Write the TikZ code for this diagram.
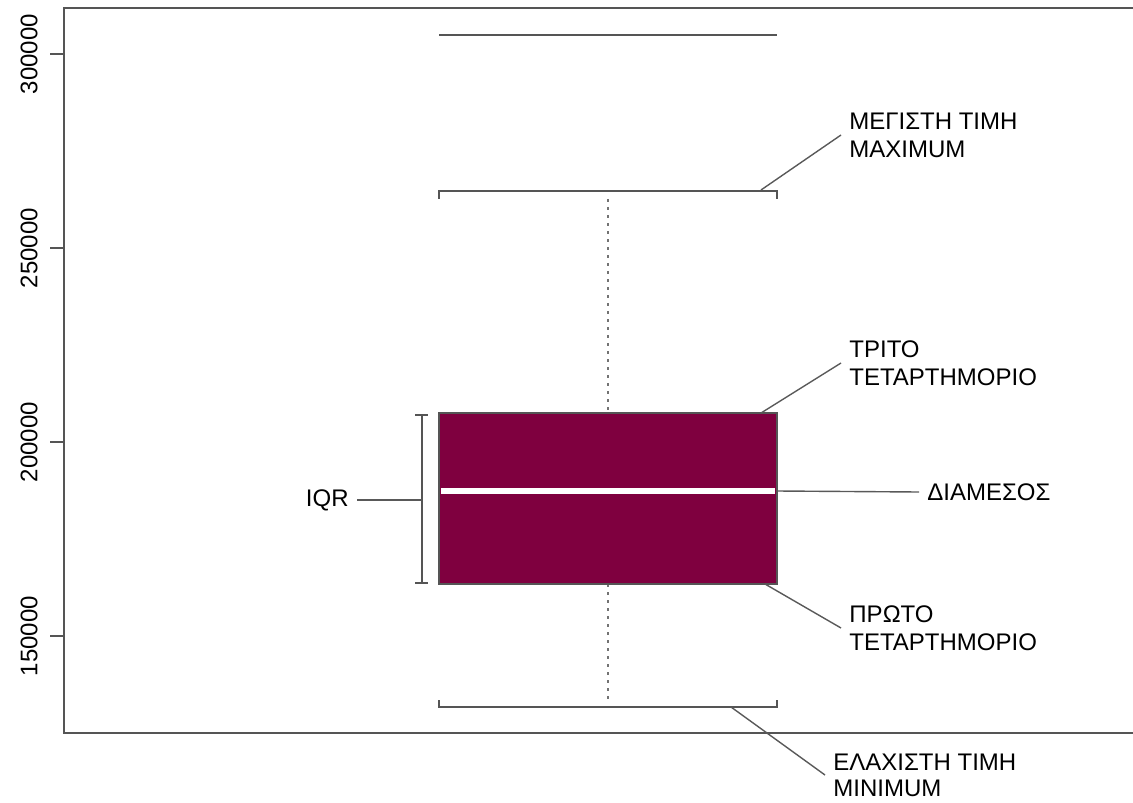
\documentclass[tikz,border=0pt]{standalone}
\usepackage{fontspec}
\setmainfont{Liberation Sans}
\definecolor{boxfill}{RGB}{127,0,63}
\definecolor{axisgray}{RGB}{85,85,85}
\tikzset{
  lbl/.style={anchor=west, align=left, inner xsep=4pt, inner ysep=0pt,
    font=\fontsize{12}{14}\selectfont},
  ticklbl/.style={rotate=90, inner sep=0pt, font=\fontsize{12}{14}\selectfont},
  lead/.style={draw=black!65, line width=0.7pt},
  wsk/.style={draw=axisgray, line width=0.9pt},
}
\begin{document}
\begin{tikzpicture}[x=0.5pt, y=-0.5pt]
  \useasboundingbox (0,0) rectangle (1133,802);
  % frame, right side is cut off
  \draw[axisgray, line width=1pt] (1133,8) -- (64,8) -- (64,733) -- (1133,733);
  \foreach \v/\y in {300000/54, 250000/248, 200000/442, 150000/636} {
    \draw[axisgray, line width=1pt] (50,\y) -- (64,\y);
    \node[ticklbl] (tick\v) at (29,\y) {\v};
  }
  % whiskers
  \draw[black!55, line width=0.7pt, dash pattern=on 1.5pt off 2.5pt] (608,199) -- (608,413);
  \draw[black!55, line width=0.7pt, dash pattern=on 1.5pt off 2.5pt] (608,584) -- (608,700);
  \draw[wsk] (439,199) -- (439,191) -- (777,191) -- (777,199);
  \draw[wsk] (439,700) -- (439,707) -- (777,707) -- (777,700);
  \draw[wsk] (439,35) -- (777,35);
  % box and median
  \filldraw[fill=boxfill, draw=axisgray, line width=0.8pt] (439,413) rectangle (777,584);
  \draw[white, line width=3pt] (441,491) -- (775,491);
  % iqr bracket
  \draw[wsk] (415,415) -- (428,415) (422,415) -- (422,583) (415,583) -- (428,583);

  \coordinate (maxpt) at (761,190);
  \coordinate (q3pt) at (761,413);
  \coordinate (medpt) at (777,491);
  \coordinate (q1pt) at (765,584);
  \coordinate (minpt) at (731,707);
  \coordinate (iqrpt) at (422,500);

  \node[lbl] (maxlbl) at (841,135) {ΜΕΓΙΣΤΗ ΤΙΜΗ\\MAXIMUM};
  \node[lbl] (q3lbl) at (841,363) {ΤΡΙΤΟ\\ΤΕΤΑΡΤΗΜΟΡΙΟ};
  \node[lbl] (medlbl) at (919,492) {ΔΙΑΜΕΣΟΣ};
  \node[lbl] (q1lbl) at (841,628) {ΠΡΩΤΟ\\ΤΕΤΑΡΤΗΜΟΡΙΟ};
  \node[lbl, font=\fontsize{12}{13}\selectfont] (minlbl) at (825,775) {ΕΛΑΧΙΣΤΗ ΤΙΜΗ\\MINIMUM};
  \node[lbl, anchor=east] (iqrlbl) at (357,500) {IQR};

  \draw[lead] (maxpt) -- (maxlbl.west);
  \draw[lead] (q3pt) -- (q3lbl.west);
  \draw[lead] (medpt) -- (medlbl.west);
  \draw[lead] (q1pt) -- (q1lbl.west);
  \draw[lead] (minpt) -- (minlbl.west);
  \draw[lead] (iqrlbl.east) -- (iqrpt);
\end{tikzpicture}
\end{document}
